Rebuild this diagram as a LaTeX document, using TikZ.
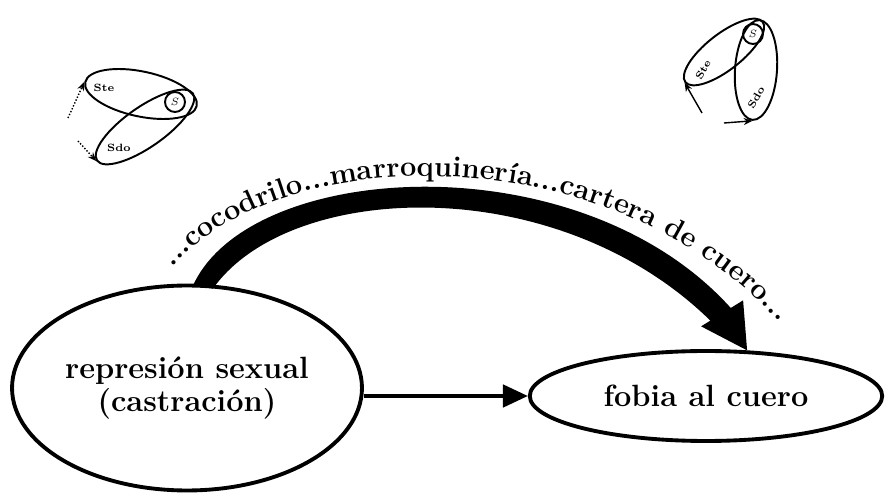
\documentclass[tikz,border=0pt]{standalone}
\usetikzlibrary{shapes.geometric,arrows.meta,decorations.text,calc}
\begin{document}
\begin{tikzpicture}[x=0.02cm,y=-0.02cm,
  bigoval/.style={ellipse, draw, line width=2.2pt, inner sep=0pt, align=center,
    font=\fontsize{17.5}{19}\selectfont\bfseries},
  smalloval/.style={ellipse, draw, line width=1.1pt, inner sep=0pt},
  smallring/.style={circle, draw, line width=1.1pt, minimum size=0.4cm, inner sep=0pt,
    font=\fontsize{6}{6}\selectfont\bfseries},
  tinylbl/.style={inner sep=0pt, font=\fontsize{6}{6}\selectfont\bfseries},
  smallarr/.style={-{Stealth[length=5pt,width=4pt]}, line width=0.8pt}]
\useasboundingbox (0,0) rectangle (887,493);

% the two main ovals
\node [bigoval, minimum width=7cm, minimum height=4.1cm] (rep) at (187,388) {represión sexual\\(castración)};
\node [bigoval, minimum width=7.05cm, minimum height=1.8cm] (fob) at (706,396) {fobia al cuero};

\draw [line width=2pt, -{Triangle[length=0.5cm,width=0.45cm]}] (rep.east |- fob.west) -- (fob.west);

% thick curved arrow
\coordinate (tip) at (fob.48);
\coordinate (s1) at ($(rep.north)+(6,2)$);
\coordinate (s2) at ($(rep.north)+(26,5)$);
\fill (s1) .. controls (250,160) and (580,140) .. ($(tip)+(-16,-42)$)
  -- ($(tip)+(-34,-27)$) .. controls (560,170) and (290,180) .. (s2) -- cycle;
\fill (tip) -- ++(-46,-24) -- ++(42,-26) -- cycle;

\path [decorate, decoration={text along path, text align=center,
  text={|\fontsize{16.5}{19}\selectfont\bfseries|...cocodrilo...marroquinería...cartera de cuero...}}]
  (152,298) .. controls (230,140) and (625,114) .. (802,350);

% small diagram, top left
\node [smalloval, minimum width=2.28cm, minimum height=0.9cm, rotate=-12] (tl1) at (141,94) {};
\node [smalloval, minimum width=2.34cm, minimum height=0.8cm, rotate=35] (tl2) at (145,127) {};
\node [smallring] (tlc) at (175,102) {$S$};
\node [tinylbl] (tll1) at (104,88) {Ste};
\node [tinylbl] (tll2) at (119,148) {Sdo};
\coordinate (tla1) at (68,118);
\coordinate (tla2) at (78,141);
\draw [smallarr, densely dotted] (tla1) -- (tl1.west);
\draw [smallarr, densely dotted] (tla2) -- (tl2.west);

% small diagram, top right
\node [smalloval, minimum width=1.96cm, minimum height=0.72cm, rotate=38] (tr1) at (724,52) {};
\node [smalloval, minimum width=2.0cm, minimum height=0.84cm, rotate=86] (tr2) at (756,70) {};
\node [smallring] (trc) at (753,34) {$S$};
\node [tinylbl, rotate=60] (trl1) at (703,70) {Ste};
\node [tinylbl, rotate=60] (trl2) at (756,98) {Sdo};
\coordinate (tra1) at (702,113);
\coordinate (tra2) at (724,123);
\draw [smallarr] (tra1) -- (tr1.west);
\draw [smallarr] (tra2) -- (tr2.west);
\end{tikzpicture}
\end{document}
